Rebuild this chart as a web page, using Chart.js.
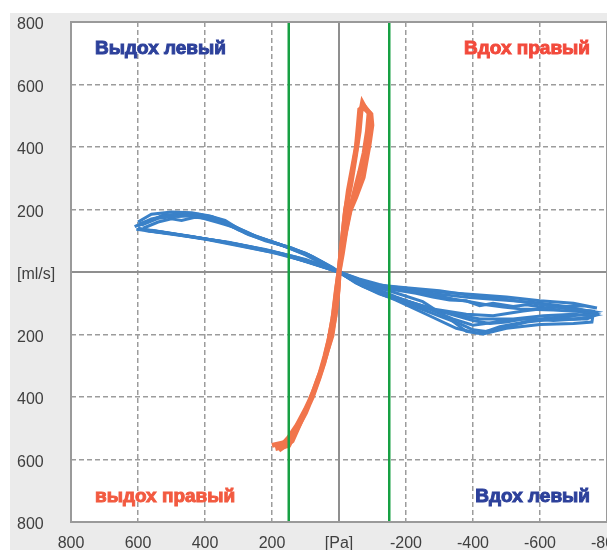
<!DOCTYPE html>
<html>
<head>
<meta charset="utf-8">
<script src="https://cdn.jsdelivr.net/npm/chart.js@4.4.1/dist/chart.umd.min.js"></script>
<style>
  html, body { margin: 0; padding: 0; overflow: hidden; background: #ffffff; }
  #wrap { width: 640px; height: 550px; position: relative; }
</style>
</head>
<body>
<div id="wrap"><canvas id="c" width="640" height="550"></canvas></div>
<script>
// ---- axis ticks ----
const xTickValues = [800, 600, 400, 200, 0, -200, -400, -600, -800];
const xTickLabels = ['800', '600', '400', '200', '[Pa]', '-200', '-400', '-600', '-800'];
const yTickValues = [800, 600, 400, 200, 0, -200, -400, -600, -800];
const yTickLabels = ['800', '600', '400', '200', '[ml/s]', '200', '400', '600', '800'];

// ---- reference lines (Pa) ----
const greenLinesX = [150, -150];

// ---- corner captions ----
const captions = ['Выдох левый', 'Вдох правый', 'выдох правый', 'Вдох левый'];

// ---- blue series (left side): [pressure Pa, flow ml/s] ----
const blueLoop1 = [[600,160],[560,185],[500,192],[440,190],[390,180],[340,165],[280,125],[220,100],[150,80],[80,50],[20,15],[0,0],[-60,-30],[-150,-60],[-250,-95],[-330,-150],[-380,-190],[-430,-198],[-500,-180],[-600,-168],[-700,-165],[-755,-160],[-760,-125],[-680,-118],[-580,-100],[-480,-85],[-400,-76],[-300,-60],[-200,-50],[-100,-40],[-30,-12],[0,0],[60,20],[170,57],[280,80],[390,103],[500,122],[605,137]];
const blueLoop2 = [[590,150],[540,172],[470,180],[400,175],[330,155],[260,118],[180,90],[100,55],[30,15],[0,0],[-80,-48],[-180,-85],[-280,-118],[-380,-135],[-460,-140],[-550,-125],[-650,-112],[-730,-108],[-770,-115],[-700,-100],[-600,-92],[-500,-80],[-400,-72],[-300,-64],[-200,-52],[-110,-42],[-40,-18],[0,0],[80,28],[180,60],[300,88],[420,110],[540,130],[600,140]];
const blueLoop3 = [[610,145],[560,170],[490,185],[420,185],[360,170],[300,135],[230,108],[160,82],[90,52],[20,10],[-40,-25],[-130,-72],[-230,-110],[-320,-130],[-420,-150],[-520,-150],[-610,-140],[-700,-135],[-760,-140],[-720,-150],[-640,-155],[-560,-150],[-470,-160],[-400,-170],[-340,-150],[-260,-115],[-170,-80],[-80,-40],[0,0],[100,40],[220,72],[350,98],[470,118],[570,132]];
const blueLoop4 = [[595,155],[520,180],[450,188],[380,178],[320,150],[250,115],[170,85],[100,58],[40,25],[0,0],[-70,-45],[-170,-90],[-270,-140],[-350,-180],[-410,-195],[-470,-185],[-560,-160],[-650,-150],[-740,-150],[-770,-135],[-690,-112],[-590,-98],[-490,-90],[-390,-82],[-290,-70],[-190,-56],[-90,-38],[0,0],[90,32],[200,63],[320,90],[440,114],[560,134]];
const blueLoop5 = [[585,140],[540,160],[500,170],[470,165],[430,175],[380,170],[350,160],[310,140],[270,120],[230,105],[190,92],[140,76],[90,55],[40,25],[0,0],[-50,-35],[-110,-62],[-170,-82],[-240,-105],[-300,-125],[-350,-140],[-400,-155],[-450,-165],[-500,-160],[-550,-150],[-600,-150],[-650,-145],[-700,-150],[-750,-145],[-740,-128],[-690,-125],[-640,-122],[-590,-120],[-540,-118],[-490,-112],[-440,-105],[-390,-95],[-340,-86],[-290,-75],[-240,-66],[-180,-55],[-120,-40],[-60,-22],[0,0],[50,18],[110,38],[170,58],[230,72],[290,85],[350,98],[410,108],[470,118],[530,128],[590,136]];
const blueLoop6 = [[600,148],[560,165],[520,185],[480,178],[440,182],[400,170],[360,158],[320,145],[280,130],[240,110],[200,96],[150,78],[100,60],[50,32],[0,0],[-60,-40],[-120,-70],[-190,-95],[-250,-120],[-310,-145],[-360,-165],[-400,-185],[-440,-190],[-480,-175],[-530,-165],[-580,-155],[-630,-150],[-680,-142],[-720,-138],[-765,-128],[-720,-120],[-660,-112],[-620,-115],[-560,-105],[-520,-110],[-460,-100],[-420,-108],[-380,-92],[-330,-90],[-280,-80],[-230,-68],[-170,-58],[-110,-45],[-50,-25],[0,0],[60,25],[130,48],[200,66],[260,80],[330,95],[400,106],[460,115],[520,124],[580,133]];

// ---- orange series (right side) ----
const orangeLoop1 = [[190,-565],[150,-555],[125,-500],[100,-450],[87,-416],[65,-350],[51,-310],[35,-250],[21,-203],[10,-120],[2,-40],[0,0],[-5,50],[-12,120],[-20,200],[-35,280],[-50,380],[-60,450],[-65,510],[-70,540],[-80,520],[-95,505],[-98,470],[-90,410],[-72,303],[-50,240],[-33,197],[-20,130],[-10,60],[0,0],[8,-60],[18,-150],[30,-220],[45,-290],[60,-340],[80,-400],[105,-460],[130,-510],[160,-545],[200,-555]];
const orangeLoop2 = [[180,-570],[140,-540],[115,-480],[95,-430],[75,-380],[55,-320],[40,-270],[25,-210],[12,-140],[3,-60],[0,0],[-4,40],[-10,100],[-18,180],[-28,260],[-40,330],[-52,400],[-58,470],[-62,520],[-75,530],[-90,510],[-85,450],[-75,380],[-62,320],[-45,250],[-28,180],[-14,100],[-4,40],[0,0],[6,-50],[15,-130],[28,-210],[42,-270],[58,-330],[78,-390],[100,-440],[125,-490],[150,-530],[175,-560]];

const toPts = arr => arr.map(p => ({ x: p[0], y: p[1] }));

const BLUE = '#3a81c8';
const ORANGE = '#f1754c';
const GREEN = '#17a043';
const GRID = '#9c9c9c';

const datasets = [];
datasets.push({ data: [{x:0,y:-800},{x:0,y:800}], borderColor: '#8f8f8f', borderWidth: 2, pointRadius: 0, showLine: true, order: 10 });
datasets.push({ data: [{x:-800,y:0},{x:800,y:0}], borderColor: '#8f8f8f', borderWidth: 2, pointRadius: 0, showLine: true, order: 10 });
[blueLoop1, blueLoop2, blueLoop3, blueLoop4, blueLoop5, blueLoop6].forEach(l => datasets.push({
  data: toPts(l), borderColor: BLUE, backgroundColor: BLUE, borderWidth: 3, pointRadius: 0, showLine: true, order: 5
}));
[orangeLoop1, orangeLoop2].forEach(l => datasets.push({
  data: toPts(l), borderColor: ORANGE, backgroundColor: ORANGE, borderWidth: 5, pointRadius: 0, showLine: true, order: 3
}));
greenLinesX.forEach(gx => datasets.push({
  data: [{x:gx,y:-800},{x:gx,y:800}], borderColor: GREEN, borderWidth: 2.5, pointRadius: 0, showLine: true, order: 1
}));

const panelPlugin = {
  id: 'panel',
  beforeDraw(chart) {
    const ctx = chart.ctx, a = chart.chartArea;
    ctx.save();
    ctx.fillStyle = '#ffffff';
    ctx.fillRect(0, 0, chart.width, chart.height);
    ctx.fillStyle = '#ebebeb';
    ctx.fillRect(10, 13, chart.width - 10, chart.height - 13);
    ctx.fillStyle = '#ffffff';
    ctx.fillRect(a.left, a.top, a.right - a.left, a.bottom - a.top);
    ctx.restore();
  },
  afterDraw(chart) {
    const ctx = chart.ctx, a = chart.chartArea;
    ctx.save();
    ctx.strokeStyle = '#9a9a9a';
    ctx.lineWidth = 2;
    ctx.strokeRect(a.left, a.top, a.right - a.left, a.bottom - a.top);
    ctx.font = 'bold 19px "Liberation Sans", Arial, sans-serif';
    ctx.textBaseline = 'middle';
    ctx.lineWidth = 1;
    const put = (txt, color, align, x, y) => {
      ctx.fillStyle = color; ctx.strokeStyle = color; ctx.textAlign = align;
      ctx.fillText(txt, x, y); ctx.strokeText(txt, x, y);
    };
    put(captions[0], '#2d419b', 'left', 95, 49);
    put(captions[1], '#f24a3c', 'right', 590, 49);
    put(captions[2], '#f25a40', 'left', 95, 497);
    put(captions[3], '#2d419b', 'right', 590, 497);
    ctx.restore();
  }
};

const gridColor = ctx => {
  const v = ctx.tick ? ctx.tick.value : null;
  if (v === 0 || v === 800 || v === -800) return 'rgba(0,0,0,0)';
  return GRID;
};

new Chart(document.getElementById('c'), {
  type: 'scatter',
  data: { datasets },
  plugins: [panelPlugin],
  options: {
    responsive: false,
    animation: false,
    layout: { padding: { left: 17, top: 22, right: 33, bottom: 0 } },
    plugins: { legend: { display: false }, tooltip: { enabled: false } },
    elements: { line: { tension: 0 } },
    scales: {
      x: {
        type: 'linear', min: -800, max: 800, reverse: true,
        afterBuildTicks: s => { s.ticks = xTickValues.map(v => ({ value: v })); },
        afterFit: s => { s.height = 28; },
        ticks: {
          autoSkip: false, maxRotation: 0, padding: 12,
          color: '#404040', font: { family: '"Liberation Sans", Arial, sans-serif', size: 16 },
          callback: v => xTickLabels[xTickValues.indexOf(v)]
        },
        grid: { color: gridColor, lineWidth: 1.5, drawTicks: false },
        border: { display: false, dash: [5, 3] }
      },
      y: {
        type: 'linear', min: -800, max: 800,
        afterBuildTicks: s => { s.ticks = yTickValues.map(v => ({ value: v })); },
        afterFit: s => { s.width = 54; },
        ticks: {
          autoSkip: false, crossAlign: 'far', padding: 8, labelOffset: 3,
          color: '#404040', font: { family: '"Liberation Sans", Arial, sans-serif', size: 16 },
          callback: v => yTickLabels[yTickValues.indexOf(v)]
        },
        grid: { color: gridColor, lineWidth: 1.5, drawTicks: false },
        border: { display: false, dash: [5, 3] }
      }
    }
  }
});
</script>
</body>
</html>
